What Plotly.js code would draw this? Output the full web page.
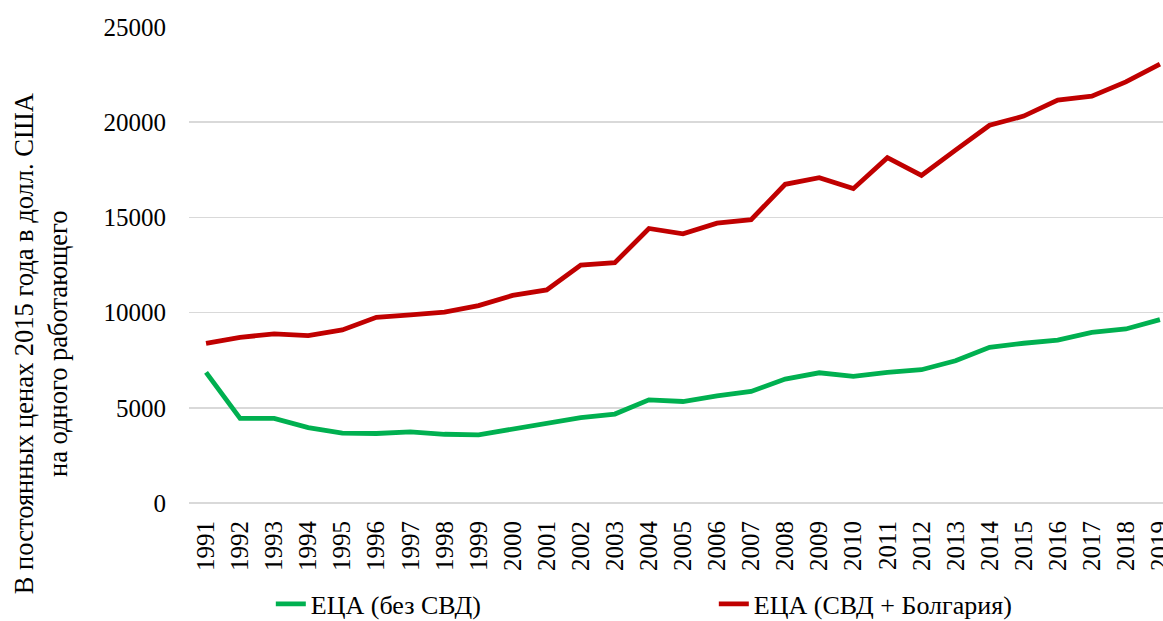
<!DOCTYPE html>
<html>
<head>
<meta charset="utf-8">
<script src="https://cdn.plot.ly/plotly-3.0.1.min.js"></script>
<style>
html, body { margin: 0; padding: 0; background: #fff; overflow: hidden; }
#chart { width: 1163px; height: 621px; }
</style>
</head>
<body>
<div id="chart"></div>
<script>
const years = ['1991','1992','1993','1994','1995','1996','1997','1998','1999','2000',
  '2001','2002','2003','2004','2005','2006','2007','2008','2009','2010',
  '2011','2012','2013','2014','2015','2016','2017','2018','2019'];
const seriesNames = ['ЕЦА (без СВД)', 'ЕЦА (СВД + Болгария)'];
const ecaNoFsu = [6860, 4440, 4440, 3960, 3670, 3650, 3740, 3610, 3580, 3880,
  4230, 4490, 4670, 5420, 5330, 5630, 5860, 6510, 6840, 6650,
  6860, 7000, 7470, 8180, 8390, 8560, 8960, 9140, 9630];
const ecaFsuBulgaria = [8380, 8700, 8880, 8790, 9090, 9750, 9880, 10020, 10370, 10900,
  11190, 12500, 12620, 14420, 14140, 14700, 14880, 16740, 17090, 16510,
  18140, 17210, 18530, 19840, 20320, 21160, 21370, 22120, 23050];
const yTicks = [0, 5000, 10000, 15000, 20000, 25000];
const yTitle = 'В постоянных ценах 2015 года в долл. США<br>на одного работающего';

const FONT = 'Liberation Serif, Times New Roman, serif';

const traces = [
  { x: years, y: ecaNoFsu, name: seriesNames[0], type: 'scatter', mode: 'lines',
    line: { color: '#00B050', width: 4.8 } },
  { x: years, y: ecaFsuBulgaria, name: seriesNames[1], type: 'scatter', mode: 'lines',
    line: { color: '#C00000', width: 4.8 } }
];

const layout = {
  width: 1163, height: 621,
  margin: { l: 189, r: 0, t: 27, b: 118, pad: 0, autoexpand: false },
  paper_bgcolor: '#fff', plot_bgcolor: '#fff',
  font: { family: FONT, size: 25, color: '#000' },
  showlegend: true,
  legend: {
    orientation: 'h', x: 0.084, xanchor: 'left', y: -0.212, yanchor: 'middle',
    font: { family: FONT, size: 26, color: '#000' },
    entrywidth: 398, entrywidthmode: 'pixels', bgcolor: 'rgba(0,0,0,0)', borderwidth: 0
  },
  xaxis: {
    type: 'category', range: [-0.5, 28.09], tickangle: -90, automargin: false,
    showgrid: false, showline: false, zeroline: false, ticks: '',
    ticklabelstandoff: 12,
    tickfont: { family: FONT, size: 25, color: '#000' }
  },
  yaxis: {
    range: [0, 25000], tickvals: yTicks, ticktext: yTicks.map(String), automargin: false,
    showgrid: true, gridcolor: '#d9d9d9', gridwidth: 1.5,
    zeroline: true, zerolinecolor: '#d9d9d9', zerolinewidth: 1.5,
    showline: false, ticks: '', ticklabelstandoff: 22,
    tickfont: { family: FONT, size: 25, color: '#000' }
  },
  annotations: [{
    text: yTitle, xref: 'paper', yref: 'paper', x: -0.152, y: 0.3355,
    xanchor: 'center', yanchor: 'middle', textangle: -90, showarrow: false,
    align: 'center', font: { family: FONT, size: 26.5, color: '#000' }
  }]
};

Plotly.newPlot('chart', traces, layout, { staticPlot: true, displayModeBar: false });
</script>
</body>
</html>
